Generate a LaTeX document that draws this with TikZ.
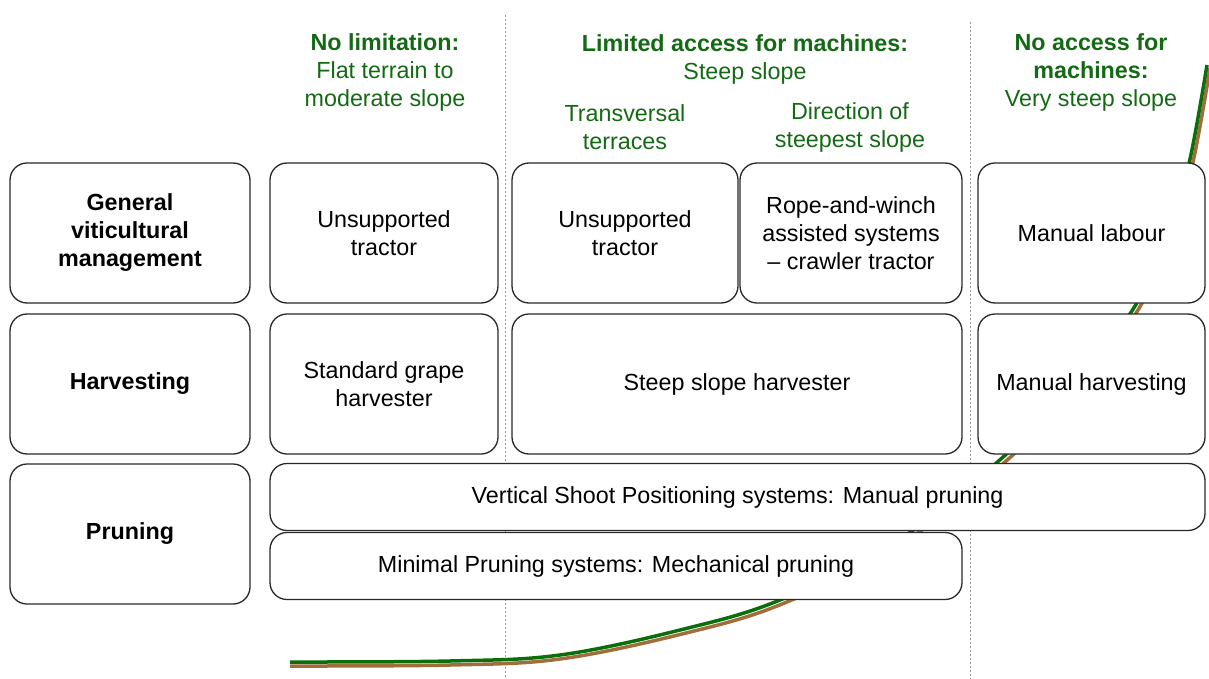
\documentclass[tikz,border=0pt]{standalone}
\usepackage{fontspec}
\setmainfont{Liberation Sans}
\definecolor{hdgreen}{RGB}{20,105,20}
\definecolor{curvegreen}{RGB}{10,110,10}
\definecolor{curvebrown}{RGB}{160,110,60}
\definecolor{boxline}{RGB}{40,40,40}
\tikzset{
  cell/.style={draw=boxline, line width=1.3pt, rounded corners=17pt, fill=white, align=center, inner sep=0pt, font=\fontsize{23.3}{28}\selectfont},
  rowhead/.style={cell, font=\fontsize{23.3}{28}\selectfont\bfseries},
  hdr/.style={align=center, text=hdgreen, inner sep=0pt, font=\fontsize{23.3}{28}\selectfont},
  sep/.style={draw=gray!80, line width=1pt, dash pattern=on 2pt off 2pt},
}
\begin{document}
\begin{tikzpicture}[x=1pt,y=-1pt]
\useasboundingbox (0,0) rectangle (1209,679);
% separators
\coordinate (s1t) at (505,15); \coordinate (s1b) at (505,679);
\coordinate (s2t) at (970,22); \coordinate (s2b) at (970,679);
\draw[sep] (s1t) -- (s1b);
\draw[sep] (s2t) -- (s2b);
% slope curve
\draw[curvebrown, line width=3.5pt] plot[smooth, tension=0.6] coordinates {(290,666) (450,665) (560,659) (682,634) (782,604) (900,545) (1005,462) (1077,389) (1138,310) (1173,232) (1193,162) (1210,68)};
\draw[curvegreen, line width=3.5pt] plot[smooth, tension=0.6] coordinates {(290,662) (450,661) (560,655) (680,630) (780,600) (897,541) (1002,458) (1074,385) (1135,306) (1170,229) (1190,159) (1207,65)};
% headers
\node[hdr] (h1) at (385,72.5) {\textbf{No limitation:}\\Flat terrain to\\moderate slope};
\node[hdr] (h2) at (745,59) {\textbf{Limited access for machines:}\\Steep slope};
\node[hdr] (h2a) at (625,127) {Transversal\\terraces};
\node[hdr] (h2b) at (850,127) {Direction of\\steepest slope};
\node[hdr] (h3) at (1091,72.5) {\textbf{No access for}\\\textbf{machines:}\\Very steep slope};
% row heads
\node[rowhead, minimum width=240pt, minimum height=140pt] (r1) at (130,233) {General\\viticultural\\management};
\node[rowhead, minimum width=240pt, minimum height=140pt] (r2) at (130,384) {Harvesting};
\node[rowhead, minimum width=240pt, minimum height=140pt] (r3) at (130,534) {Pruning};
% row 1
\node[cell, minimum width=228pt, minimum height=140pt] (c11) at (384,233) {Unsupported\\tractor};
\node[cell, minimum width=226pt, minimum height=140pt] (c12) at (625,233) {Unsupported\\tractor};
\node[cell, minimum width=222pt, minimum height=140pt] (c13) at (851,233) {Rope-and-winch\\assisted systems\\-- crawler tractor};
\node[cell, minimum width=227pt, minimum height=140pt] (c14) at (1091.5,233) {Manual labour};
% row 2
\node[cell, minimum width=228pt, minimum height=140pt] (c21) at (384,384) {Standard grape\\harvester};
\node[cell, minimum width=450pt, minimum height=140pt] (c22) at (737,384) {Steep slope harvester};
\node[cell, minimum width=227pt, minimum height=140pt] (c24) at (1091.5,384) {Manual harvesting};
% row 3
\node[cell, minimum width=935pt, minimum height=67pt] (c31) at (737.5,497) {Vertical Shoot Positioning systems: Manual pruning};
\node[cell, minimum width=692pt, minimum height=67pt] (c32) at (616,566) {Minimal Pruning systems: Mechanical pruning};
\end{tikzpicture}
\end{document}
